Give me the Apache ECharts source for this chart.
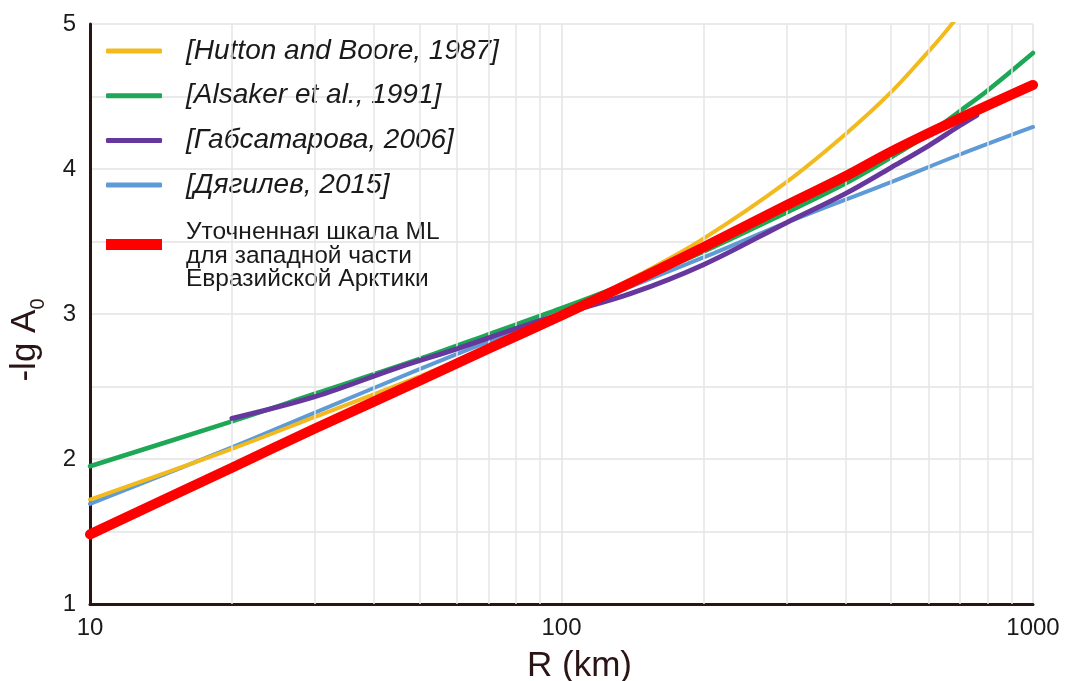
<!DOCTYPE html>
<html>
<head>
<meta charset="utf-8">
<script src="https://cdn.jsdelivr.net/npm/echarts@6/dist/echarts.min.js"></script>
<style>
  html, body { margin: 0; padding: 0; background: #ffffff; }
  #chart { width: 1070px; height: 681px; }
</style>
</head>
<body>
<div id="chart"></div>
<script>
// Distance R (km) and calibration value -lg A0 for each scale
const huttonR  = [10, 20, 30, 50, 70, 100, 150, 200, 300, 400, 500, 600, 650, 700];
const huttonV  = [1.72, 2.07, 2.29, 2.57, 2.77, 3.00, 3.29, 3.52, 3.91, 4.24, 4.53, 4.81, 4.94, 5.07];

const alsakerR = [10, 20, 30, 50, 70, 100, 150, 200, 300, 400, 500, 600, 700, 800, 1000];
const alsakerV = [1.95, 2.26, 2.45, 2.69, 2.86, 3.04, 3.26, 3.43, 3.70, 3.90, 4.08, 4.24, 4.40, 4.54, 4.80];

const gabsR    = [20, 30, 45, 60, 80, 100, 140, 200, 300, 400, 500, 600, 700, 760];
const gabsV    = [2.28, 2.43, 2.63, 2.76, 2.90, 3.00, 3.14, 3.34, 3.63, 3.83, 4.01, 4.16, 4.30, 4.37];

const dyagR    = [10, 20, 30, 50, 70, 100, 200, 300, 500, 700, 1000];
const dyagV    = [1.69, 2.08, 2.32, 2.62, 2.81, 3.00, 3.39, 3.63, 3.91, 4.10, 4.29];

const refinedR = [10, 20, 30, 50, 70, 100, 150, 200, 300, 400, 500, 700, 1000];
const refinedV = [1.48, 1.94, 2.21, 2.54, 2.76, 2.99, 3.26, 3.46, 3.75, 3.95, 4.12, 4.35, 4.58];

// Intermediate distances that get a vertical grid line
const minorR   = [20, 30, 40, 50, 60, 70, 80, 90, 200, 300, 400, 500, 600, 700, 800, 900];

const names = {
  hutton:  '[Hutton and Boore, 1987]',
  alsaker: '[Alsaker et al., 1991]',
  gabs:    '[Габсатарова, 2006]',
  dyag:    '[Дягилев, 2015]',
  refined: 'Уточненная шкала ML\nдля западной части\nЕвразийской Арктики'
};

const FONT = '"Liberation Sans", Arial, Helvetica, sans-serif';
const INK = '#2a1414';
const pairs = (xs, ys) => xs.map((x, i) => [x, ys[i]]);

function curve(name, xs, ys, color, width, z) {
  return {
    name, type: 'line', data: pairs(xs, ys), z,
    smooth: 0.35, showSymbol: false, symbol: 'none',
    lineStyle: { color, width, cap: 'round' },
    itemStyle: { color },
    emphasis: { disabled: true },
    clip: true
  };
}

const chart = echarts.init(document.getElementById('chart'), null, { renderer: 'canvas' });

chart.setOption({
  animation: false,
  backgroundColor: '#ffffff',
  textStyle: { fontFamily: FONT },
  grid: { left: 90, right: 37, top: 24, bottom: 77, containLabel: false, outerBoundsMode: 'none' },
  xAxis: {
    type: 'log', logBase: 10, min: 10, max: 1000,
    name: 'R (km)', nameLocation: 'middle', nameGap: 45,
    nameTextStyle: { fontSize: 35, color: INK, fontFamily: FONT, padding: [0, 0, 0, 36] },
    axisLine: { show: true, lineStyle: { color: INK, width: 3 } },
    axisTick: { show: false },
    axisLabel: { fontSize: 24, color: '#1a1a1a', margin: 12, fontFamily: FONT, formatter: v => String(v) },
    splitLine: { show: true, lineStyle: { color: '#e3e3e3', width: 1.5 } }
  },
  yAxis: {
    type: 'value', min: 1, max: 5, interval: 0.5,
    name: '{a|-lg A}{s|0}', nameLocation: 'middle', nameRotate: 90, nameGap: 42,
    nameTextStyle: {
      color: INK, fontFamily: FONT, padding: [0, 52, 0, 0],
      rich: {
        a: { fontSize: 35, lineHeight: 46, verticalAlign: 'middle', color: INK, fontFamily: FONT },
        s: { fontSize: 20, lineHeight: 46, verticalAlign: 'bottom', color: INK, fontFamily: FONT }
      }
    },
    axisLine: { show: true, lineStyle: { color: INK, width: 3 } },
    axisTick: { show: false },
    axisLabel: {
      fontSize: 24, color: '#1a1a1a', margin: 14, fontFamily: FONT,
      formatter: v => (Math.abs(v - Math.round(v)) < 1e-9 ? String(Math.round(v)) : '')
    },
    splitLine: { show: true, lineStyle: { color: '#e3e3e3', width: 1.5 } }
  },
  legend: [
    {
      orient: 'vertical', left: 106, top: 36, padding: 0,
      icon: 'roundRect', itemWidth: 56, itemHeight: 5, itemGap: 14.7,
      selectedMode: false,
      data: [names.hutton, names.alsaker, names.gabs, names.dyag],
      textStyle: { fontSize: 28, fontStyle: 'italic', color: '#1a1a1a', fontFamily: FONT, lineHeight: 30, padding: [0, 0, 0, 19] }
    },
    {
      orient: 'vertical', left: 106, top: 220, padding: 0,
      // bar drawn in the upper part of the icon box so it sits beside the first text lines
      icon: 'path://M0,0L56,0L56,11L0,11Z M0,34L0.3,34L0.3,33.7Z',
      itemWidth: 56, itemHeight: 34,
      selectedMode: false,
      data: [names.refined],
      textStyle: { fontSize: 24.5, color: '#1a1a1a', fontFamily: FONT, lineHeight: 23.5, padding: [0, 0, 0, 19] }
    }
  ],
  series: [
    {
      name: 'grid-minor', type: 'line', data: [], z: 1, silent: true,
      markLine: {
        silent: true, symbol: 'none', animation: false,
        label: { show: false },
        lineStyle: { color: '#e6e6e6', width: 1.5, type: 'solid' },
        data: minorR.map(r => ({ xAxis: r }))
      }
    },
    curve(names.hutton,  huttonR,  huttonV,  '#F3BA1D', 4,   4),
    curve(names.alsaker, alsakerR, alsakerV, '#1DA756', 4.5, 3),
    curve(names.gabs,    gabsR,    gabsV,    '#66389E', 5,   5),
    curve(names.dyag,    dyagR,    dyagV,    '#5E9BD6', 4,   3.5),
    curve(names.refined, refinedR, refinedV, '#FF0000', 10,  6)
  ]
});
</script>
</body>
</html>
